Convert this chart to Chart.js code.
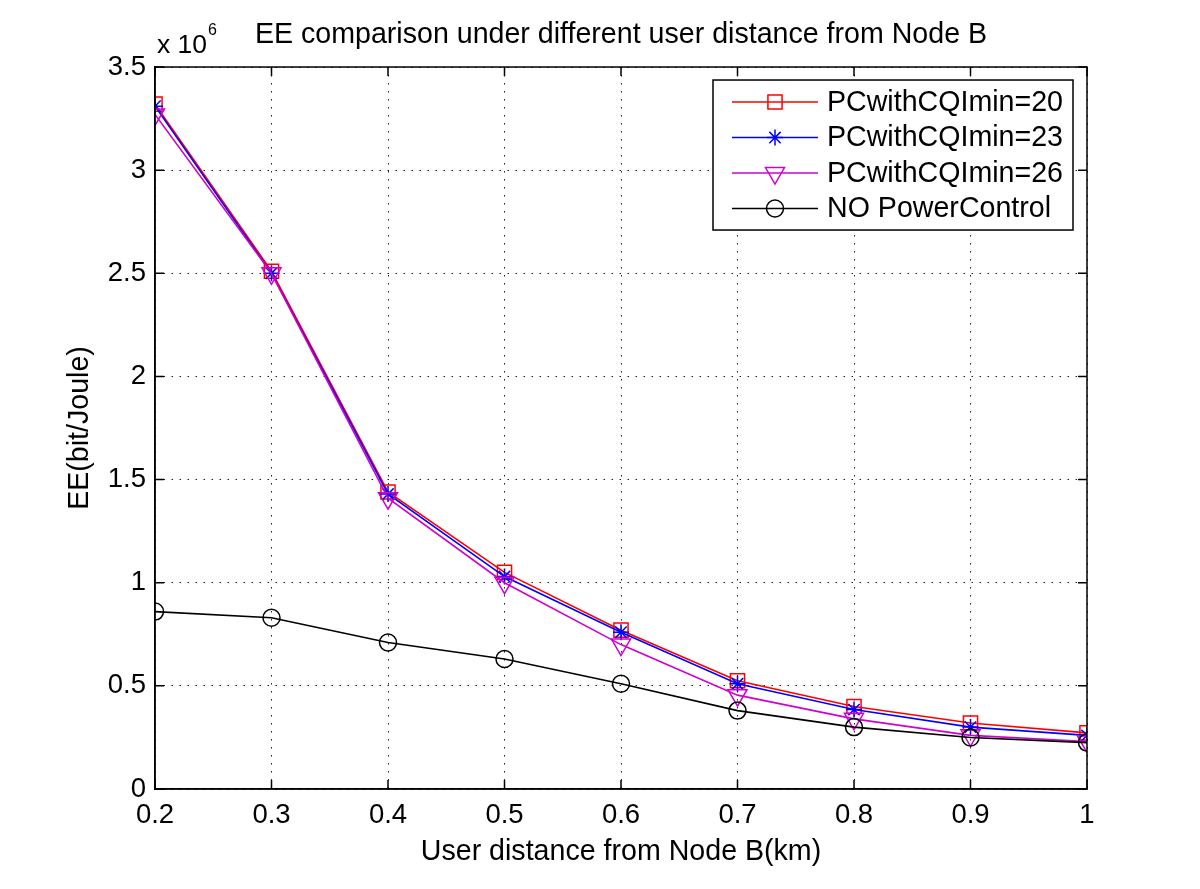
<!DOCTYPE html>
<html>
<head>
<meta charset="utf-8">
<script src="https://cdn.jsdelivr.net/npm/chart.js@4.4.1/dist/chart.umd.min.js"></script>
<style>
  html, body { margin: 0; padding: 0; background: #fff; }
  #wrap { width: 1200px; height: 889px; }
</style>
</head>
<body>
<div id="wrap"><canvas id="c" width="1200" height="889"></canvas></div>
<script>
// ---- data (EE in bit/Joule) ----
const distances = [0.2, 0.3, 0.4, 0.5, 0.6, 0.7, 0.8, 0.9, 1.0];
const pcCqi20 = [3.32e6, 2.51e6, 1.44e6, 1.05e6, 0.77e6, 0.525e6, 0.40e6, 0.32e6, 0.272e6];
const pcCqi23 = [3.31e6, 2.50e6, 1.43e6, 1.03e6, 0.76e6, 0.51e6, 0.385e6, 0.30e6, 0.26e6];
const pcCqi26 = [3.27e6, 2.50e6, 1.41e6, 1.00e6, 0.70e6, 0.455e6, 0.34e6, 0.26e6, 0.23e6];
const noPowerControl = [0.86e6, 0.83e6, 0.71e6, 0.63e6, 0.51e6, 0.38e6, 0.30e6, 0.25e6, 0.225e6];
const seriesLabels = ['PCwithCQImin=20', 'PCwithCQImin=23', 'PCwithCQImin=26', 'NO PowerControl'];
const xTickValues = [0.2, 0.3, 0.4, 0.5, 0.6, 0.7, 0.8, 0.9, 1.0];
const yTickValues = [0, 0.5e6, 1e6, 1.5e6, 2e6, 2.5e6, 3e6, 3.5e6];
const titleText = 'EE comparison under different user distance from Node B';
const xTitle = 'User distance from Node B(km)';
const yTitle = 'EE(bit/Joule)';

const FONT = '"Liberation Sans", Arial, Helvetica, sans-serif';
const FS = 28.6;   // titles & legend
const TFS = 27.5;  // tick labels

function pts(arr) { return distances.map((d, i) => ({ x: d, y: arr[i] })); }

const styles = [
  { color: '#ff0000', pointStyle: 'rect', radius: 10, rotation: 0 },
  { color: '#0000ff', pointStyle: 'star', radius: 8, rotation: 0 },
  { color: '#d000d0', pointStyle: 'triangle', radius: 11, rotation: 180 },
  { color: '#000000', pointStyle: 'circle', radius: 8.5, rotation: 0 }
];
const seriesData = [pcCqi20, pcCqi23, pcCqi26, noPowerControl];

const datasets = seriesData.map((arr, i) => ({
  label: seriesLabels[i],
  data: pts(arr),
  borderColor: styles[i].color,
  backgroundColor: 'rgba(0,0,0,0)',
  pointBackgroundColor: 'rgba(0,0,0,0)',
  pointBorderColor: styles[i].color,
  pointStyle: styles[i].pointStyle,
  pointRadius: styles[i].radius,
  pointRotation: styles[i].rotation,
  pointBorderWidth: 1.5,
  pointHoverRadius: styles[i].radius,
  borderWidth: 1.6,
  tension: 0,
  fill: false,
  order: 4 - i
}));

const fmt = v => String(Number(v.toFixed(2)));

const boxPlugin = {
  id: 'matlabBox',
  afterDatasetsDraw(chart) {
    const { ctx, chartArea: a, scales } = chart;
    ctx.save();
    ctx.strokeStyle = '#000';
    ctx.lineWidth = 1.5;
    ctx.setLineDash([]);
    ctx.strokeRect(a.left, a.top, a.right - a.left, a.bottom - a.top);
    const tl = 9;
    ctx.beginPath();
    xTickValues.forEach(v => {
      const px = scales.x.getPixelForValue(v);
      ctx.moveTo(px, a.bottom); ctx.lineTo(px, a.bottom - tl);
      ctx.moveTo(px, a.top); ctx.lineTo(px, a.top + tl);
    });
    yTickValues.forEach(v => {
      const py = scales.y.getPixelForValue(v);
      ctx.moveTo(a.left, py); ctx.lineTo(a.left + tl, py);
      ctx.moveTo(a.right, py); ctx.lineTo(a.right - tl, py);
    });
    ctx.stroke();

    // exponent label
    ctx.fillStyle = '#000';
    ctx.textBaseline = 'alphabetic';
    ctx.textAlign = 'left';
    ctx.font = '26.5px ' + FONT;
    ctx.fillText('x 10', a.left + 2, a.top - 14);
    const w = ctx.measureText('x 10').width;
    ctx.font = '16px ' + FONT;
    ctx.fillText('6', a.left + 3 + w, a.top - 32);

    // legend
    const lw = 360, rowH = 35.5;
    const lx = a.right - 14 - lw, ly = a.top + 13;
    const lh = rowH * datasets.length + 8;
    ctx.fillStyle = '#fff';
    ctx.fillRect(lx, ly, lw, lh);
    ctx.strokeStyle = '#000';
    ctx.lineWidth = 1.5;
    ctx.strokeRect(lx, ly, lw, lh);
    ctx.font = FS + 'px ' + FONT;
    ctx.textBaseline = 'middle';
    chart.data.datasets.forEach((ds, i) => {
      const cy = ly + 22 + i * rowH;
      ctx.strokeStyle = ds.borderColor;
      ctx.lineWidth = 1.6;
      ctx.beginPath();
      ctx.moveTo(lx + 19, cy); ctx.lineTo(lx + 105, cy);
      ctx.stroke();
      ctx.lineWidth = 1.5;
      ctx.fillStyle = 'rgba(0,0,0,0)';
      Chart.helpers.drawPoint(ctx, {
        pointStyle: ds.pointStyle, radius: ds.pointRadius,
        rotation: ds.pointRotation, borderWidth: 1.5
      }, lx + 62, cy);
      ctx.fillStyle = '#000';
      ctx.fillText(ds.label, lx + 114, cy + 1);
    });
    ctx.restore();
  }
};

new Chart(document.getElementById('c'), {
  type: 'line',
  data: { datasets },
  options: {
    responsive: false,
    animation: false,
    devicePixelRatio: 1,
    layout: { padding: { left: 0, right: 113, top: 0, bottom: 0 } },
    plugins: {
      legend: { display: false },
      tooltip: { enabled: false },
      title: {
        display: true,
        fullSize: false,
        text: titleText,
        color: '#000',
        font: { family: FONT, size: FS, weight: 'normal' },
        padding: { top: 18, bottom: 14.7 }
      }
    },
    scales: {
      x: {
        type: 'linear',
        min: 0.2, max: 1.0,
        afterBuildTicks: s => { s.ticks = xTickValues.map(v => ({ value: v })); },
        afterFit: s => { s.height = 100; },
        ticks: { color: '#000', font: { family: FONT, size: TFS }, padding: 10, maxRotation: 0, autoSkip: false, callback: v => fmt(v) },
        grid: { color: '#222', lineWidth: 1, drawTicks: false },
        border: { display: true, color: '#000', width: 1.5, dash: [1.5, 6.5] },
        title: { display: true, text: xTitle, color: '#000', font: { family: FONT, size: FS }, padding: { top: 0, bottom: 20 } }
      },
      y: {
        type: 'linear',
        min: 0, max: 3.5e6,
        afterBuildTicks: s => { s.ticks = yTickValues.map(v => ({ value: v })); },
        afterFit: s => { s.width = 155; },
        ticks: { color: '#000', font: { family: FONT, size: TFS }, padding: 9, autoSkip: false, callback: v => fmt(v / 1e6) },
        grid: { color: '#222', lineWidth: 1, drawTicks: false },
        border: { display: true, color: '#000', width: 1.5, dash: [1.5, 6.5] },
        title: { display: true, text: yTitle, color: '#000', font: { family: FONT, size: FS }, padding: { top: 63, bottom: 0 } }
      }
    }
  },
  plugins: [boxPlugin]
});
</script>
</body>
</html>
